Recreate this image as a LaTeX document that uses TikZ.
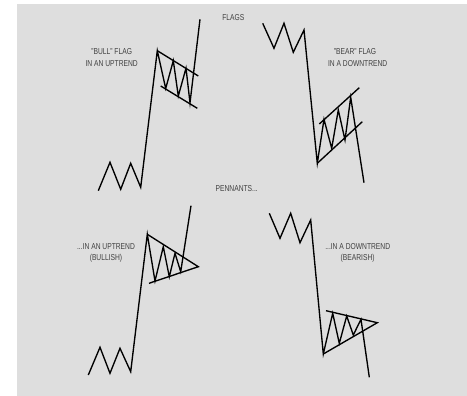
\documentclass[tikz,border=0pt]{standalone}
\usepackage{fontspec}
\setmainfont{Liberation Sans}[FakeStretch=0.78]
\begin{document}
\begin{tikzpicture}[x=1pt,y=-1pt,
  lbl/.style={font=\fontsize{8.6}{9.5}\selectfont, text=black!75, inner sep=0pt, align=center},
  price/.style={line width=1.35pt, black, line join=miter},
  chan/.style={line width=1.35pt, black}]
\useasboundingbox (0,0) rectangle (467,396);
\fill[white] (0,0) rectangle (467,396);
\fill[black!13] (17,4) rectangle (467,396);
% titles
\node[lbl] (flags) at (233.3,17.3) {FLAGS};
\node[lbl] (pennants) at (236.7,188.7) {PENNANTS...};
% bull flag
\node[lbl] (bullA) at (111.7,51.7) {"BULL" FLAG};
\node[lbl] (bullB) at (111.7,63.3) {IN AN UPTREND};
\draw[price] (98.3,190.7) -- (110,162.3) -- (120.7,189.3) -- (130.7,163.3) -- (140.7,187.3)
  -- (157.3,50.7) -- (165.7,88.5) -- (173.3,60.7) -- (178.3,96) -- (186,68.2) -- (190,102.8) -- (200,19.3);
\draw[chan] (157.3,50.7) -- (198.3,76);
\draw[chan] (160.7,86) -- (197.3,108.3);
% bear flag
\node[lbl] (bearA) at (355,51.7) {"BEAR" FLAG};
\node[lbl] (bearB) at (357.7,63.3) {IN A DOWNTREND};
\draw[price] (262.7,23.3) -- (274,48.3) -- (284,23.3) -- (293.3,52.3) -- (304,30)
  -- (317.3,163.3) -- (324,119.3) -- (331.7,148.3) -- (338.3,110) -- (345,140) -- (350.7,97.3) -- (364,182.7);
\draw[chan] (319.3,124) -- (359.3,87.7);
\draw[chan] (317.3,163.3) -- (362.3,121.7);
% bull pennant
\node[lbl] (bpA) at (106,246.7) {...IN AN UPTREND};
\node[lbl] (bpB) at (106,258.3) {(BULLISH)};
\draw[price] (88.3,375) -- (100,347.3) -- (110,373.3) -- (120,348.3) -- (130.7,371.7)
  -- (147.3,234.3) -- (155,281) -- (163.3,246.7) -- (169.3,276.7) -- (175,253.3) -- (180.7,271.7) -- (191,205.7);
\draw[chan] (147.3,234.3) -- (198.3,266.7) -- (149,283.3);
% bear pennant
\node[lbl] (dpA) at (357.7,246.7) {...IN A DOWNTREND};
\node[lbl] (dpB) at (357.7,258.3) {(BEARISH)};
\draw[price] (269.3,213.3) -- (280,238.3) -- (290.7,213.3) -- (300,242.7) -- (310.7,220)
  -- (323.3,354) -- (332.7,313.3) -- (339.3,343.3) -- (346.7,316) -- (353.3,335) -- (361,319.3) -- (369.3,377.3);
\draw[chan] (326,310.7) -- (377.3,322.7) -- (323.3,354);
\end{tikzpicture}
\end{document}
